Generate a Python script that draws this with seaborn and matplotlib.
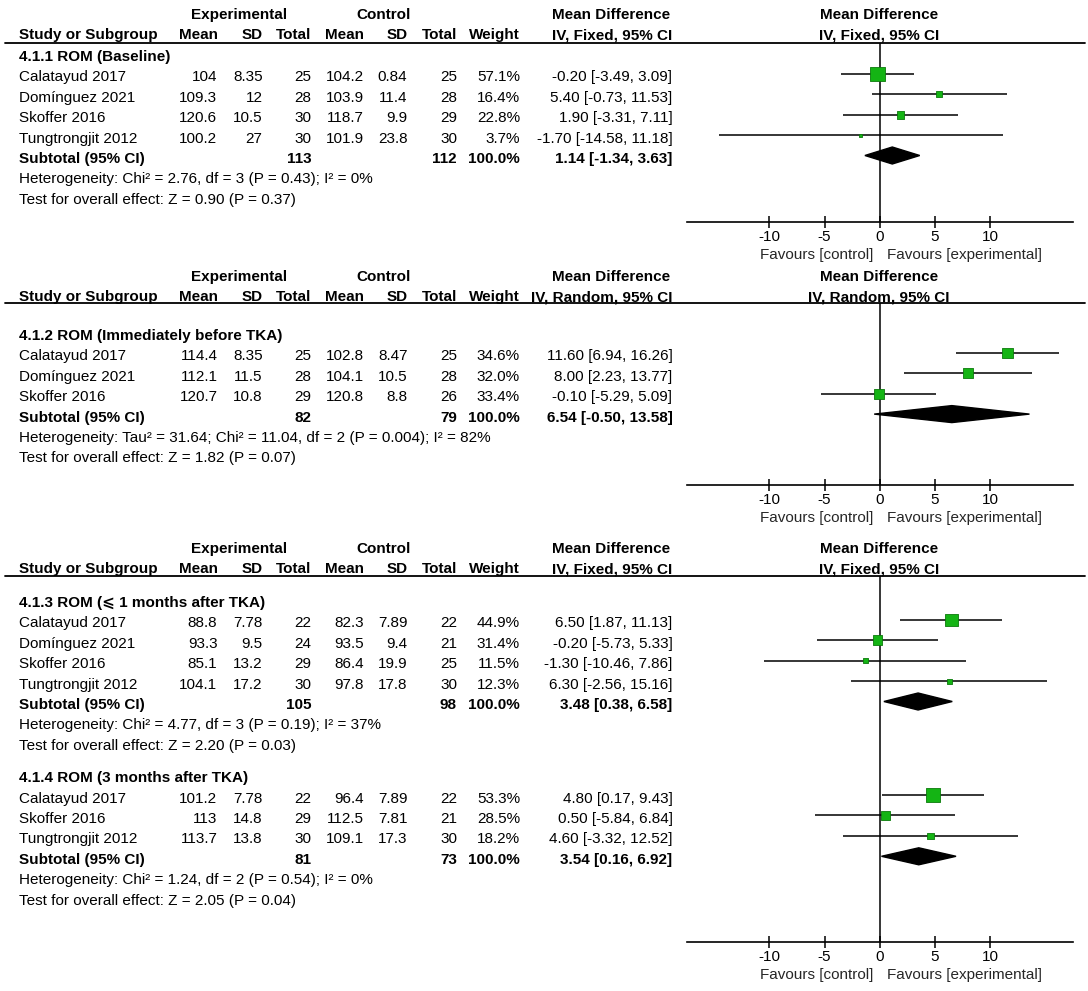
import numpy as np
import pandas as pd
import matplotlib
matplotlib.use("Agg")
import matplotlib.pyplot as plt
import seaborn as sns

# values (ROM, experimental vs control)

# 4.1.1 ROM (Baseline) - fixed effect
G1_TITLE = "4.1.1 ROM (Baseline)"
G1_STUDY = ["Calatayud 2017", "Domínguez 2021", "Skoffer 2016", "Tungtrongjit 2012"]
G1_EXP_MEAN = [104, 109.3, 120.6, 100.2]
G1_EXP_SD = [8.35, 12, 10.5, 27]
G1_EXP_N = [25, 28, 30, 30]
G1_CTL_MEAN = [104.2, 103.9, 118.7, 101.9]
G1_CTL_SD = [0.84, 11.4, 9.9, 23.8]
G1_CTL_N = [25, 28, 29, 30]
G1_WEIGHT = [57.1, 16.4, 22.8, 3.7]
G1_MD = [-0.20, 5.40, 1.90, -1.70]
G1_LO = [-3.49, -0.73, -3.31, -14.58]
G1_HI = [3.09, 11.53, 7.11, 11.18]
G1_TOTAL = [113, 112]
G1_POOLED = [1.14, -1.34, 3.63]
G1_HET = "Heterogeneity: Chi² = 2.76, df = 3 (P = 0.43); I² = 0%"
G1_TEST = "Test for overall effect: Z = 0.90 (P = 0.37)"

# 4.1.2 ROM (Immediately before TKA) - random effects
G2_TITLE = "4.1.2 ROM (Immediately before TKA)"
G2_STUDY = ["Calatayud 2017", "Domínguez 2021", "Skoffer 2016"]
G2_EXP_MEAN = [114.4, 112.1, 120.7]
G2_EXP_SD = [8.35, 11.5, 10.8]
G2_EXP_N = [25, 28, 29]
G2_CTL_MEAN = [102.8, 104.1, 120.8]
G2_CTL_SD = [8.47, 10.5, 8.8]
G2_CTL_N = [25, 28, 26]
G2_WEIGHT = [34.6, 32.0, 33.4]
G2_MD = [11.60, 8.00, -0.10]
G2_LO = [6.94, 2.23, -5.29]
G2_HI = [16.26, 13.77, 5.09]
G2_TOTAL = [82, 79]
G2_POOLED = [6.54, -0.50, 13.58]
G2_HET = "Heterogeneity: Tau² = 31.64; Chi² = 11.04, df = 2 (P = 0.004); I² = 82%"
G2_TEST = "Test for overall effect: Z = 1.82 (P = 0.07)"

# 4.1.3 ROM (<= 1 months after TKA) - fixed effect
G3_TITLE = "4.1.3 ROM (⩽ 1 months after TKA)"
G3_STUDY = ["Calatayud 2017", "Domínguez 2021", "Skoffer 2016", "Tungtrongjit 2012"]
G3_EXP_MEAN = [88.8, 93.3, 85.1, 104.1]
G3_EXP_SD = [7.78, 9.5, 13.2, 17.2]
G3_EXP_N = [22, 24, 29, 30]
G3_CTL_MEAN = [82.3, 93.5, 86.4, 97.8]
G3_CTL_SD = [7.89, 9.4, 19.9, 17.8]
G3_CTL_N = [22, 21, 25, 30]
G3_WEIGHT = [44.9, 31.4, 11.5, 12.3]
G3_MD = [6.50, -0.20, -1.30, 6.30]
G3_LO = [1.87, -5.73, -10.46, -2.56]
G3_HI = [11.13, 5.33, 7.86, 15.16]
G3_TOTAL = [105, 98]
G3_POOLED = [3.48, 0.38, 6.58]
G3_HET = "Heterogeneity: Chi² = 4.77, df = 3 (P = 0.19); I² = 37%"
G3_TEST = "Test for overall effect: Z = 2.20 (P = 0.03)"

# 4.1.4 ROM (3 months after TKA) - fixed effect
G4_TITLE = "4.1.4 ROM (3 months after TKA)"
G4_STUDY = ["Calatayud 2017", "Skoffer 2016", "Tungtrongjit 2012"]
G4_EXP_MEAN = [101.2, 113, 113.7]
G4_EXP_SD = [7.78, 14.8, 13.8]
G4_EXP_N = [22, 29, 30]
G4_CTL_MEAN = [96.4, 112.5, 109.1]
G4_CTL_SD = [7.89, 7.81, 17.3]
G4_CTL_N = [22, 21, 30]
G4_WEIGHT = [53.3, 28.5, 18.2]
G4_MD = [4.80, 0.50, 4.60]
G4_LO = [0.17, -5.84, -3.32]
G4_HI = [9.43, 6.84, 12.52]
G4_TOTAL = [81, 73]
G4_POOLED = [3.54, 0.16, 6.92]
G4_HET = "Heterogeneity: Chi² = 1.24, df = 2 (P = 0.54); I² = 0%"
G4_TEST = "Test for overall effect: Z = 2.05 (P = 0.04)"

X_TICKS = [-10, -5, 0, 5, 10]
X_LIM = (-17.5, 17.5)


def make_group(title, study, em, esd, en, cm, csd, cn, w, md, lo, hi, total, pooled, het, test):
    df = pd.DataFrame({
        "study": study, "exp_mean": em, "exp_sd": esd, "exp_n": en,
        "ctl_mean": cm, "ctl_sd": csd, "ctl_n": cn,
        "weight": w, "md": md, "lo": lo, "hi": hi,
    })
    return {"title": title, "df": df, "total": total, "pooled": pooled,
            "het": het, "test": test}


g1 = make_group(G1_TITLE, G1_STUDY, G1_EXP_MEAN, G1_EXP_SD, G1_EXP_N, G1_CTL_MEAN,
                G1_CTL_SD, G1_CTL_N, G1_WEIGHT, G1_MD, G1_LO, G1_HI, G1_TOTAL,
                G1_POOLED, G1_HET, G1_TEST)
g2 = make_group(G2_TITLE, G2_STUDY, G2_EXP_MEAN, G2_EXP_SD, G2_EXP_N, G2_CTL_MEAN,
                G2_CTL_SD, G2_CTL_N, G2_WEIGHT, G2_MD, G2_LO, G2_HI, G2_TOTAL,
                G2_POOLED, G2_HET, G2_TEST)
g3 = make_group(G3_TITLE, G3_STUDY, G3_EXP_MEAN, G3_EXP_SD, G3_EXP_N, G3_CTL_MEAN,
                G3_CTL_SD, G3_CTL_N, G3_WEIGHT, G3_MD, G3_LO, G3_HI, G3_TOTAL,
                G3_POOLED, G3_HET, G3_TEST)
g4 = make_group(G4_TITLE, G4_STUDY, G4_EXP_MEAN, G4_EXP_SD, G4_EXP_N, G4_CTL_MEAN,
                G4_CTL_SD, G4_CTL_N, G4_WEIGHT, G4_MD, G4_LO, G4_HI, G4_TOTAL,
                G4_POOLED, G4_HET, G4_TEST)

# layout in pixels (figure is 1088 x 991)
W, H = 1088, 991
ROW_H = 20.4
GROUP_GAP = 12
COL_X = [217.5, 262.5, 311.5, 364, 407.5, 457, 520]
MD_X = 672.5
NAME_X = 19
PLOT_LEFT, PLOT_RIGHT = 686.7, 1072.7
ZERO_X = 879
MARK_SHIFT = -3.5
FS = 11
GREEN = "#14b414"
GREEN_EDGE = "#0b7a0b"

panels = [
    {"model": "Fixed", "groups": [g1], "head": 15, "rule": 42.5, "first": 57, "axis": 221.5},
    {"model": "Random", "groups": [g2], "head": 277, "rule": 303, "first": 336, "axis": 485},
    {"model": "Fixed", "groups": [g3, g4], "head": 549, "rule": 576, "first": 603, "axis": 942},
]

sns.set_theme(style="white")
plt.rcParams["font.family"] = ["Liberation Sans", "DejaVu Sans"]
plt.rcParams["font.size"] = FS

fig = plt.figure(figsize=(W / 100, H / 100), dpi=100)
tax = fig.add_axes([0, 0, 1, 1])
tax.set_xlim(0, W)
tax.set_ylim(H, 0)
tax.axis("off")


def txt(x, y, s, ha="left", bold=False):
    tax.text(x, y, s, ha=ha, va="center", fontsize=FS, color="black",
             fontweight="bold" if bold else "normal")


def fmt(v):
    return f"{v:g}"


for p in panels:
    h1, h2 = p["head"], p["head"] + 20
    txt(238.7, h1, "Experimental", "center", True)
    txt(384, h1, "Control", "center", True)
    txt(611, h1, "Mean Difference", "center", True)
    txt(ZERO_X, h1, "Mean Difference", "center", True)
    txt(NAME_X, h2, "Study or Subgroup", bold=True)
    for lab, x in zip(["Mean", "SD", "Total", "Mean", "SD", "Total", "Weight"], COL_X):
        txt(x, h2, lab, "right", True)
    txt(MD_X, h2, f"IV, {p['model']}, 95% CI", "right", True)
    txt(ZERO_X, h2, f"IV, {p['model']}, 95% CI", "center", True)
    tax.plot([5, 1085], [p["rule"], p["rule"]], color="black", lw=1.3)

    # forest axes for this panel, y in figure pixels
    fax = fig.add_axes([PLOT_LEFT / W, 1 - p["axis"] / H,
                        (PLOT_RIGHT - PLOT_LEFT) / W, (p["axis"] - p["rule"]) / H])
    fax.set_xlim(*X_LIM)
    fax.set_ylim(p["axis"], p["rule"])
    fax.patch.set_alpha(0)
    for side in ["left", "right", "top"]:
        fax.spines[side].set_visible(False)
    fax.spines["bottom"].set_color("black")
    fax.spines["bottom"].set_linewidth(1.2)
    fax.set_xticks(X_TICKS)
    fax.set_xticklabels([str(t) for t in X_TICKS])
    fax.set_yticks([])
    fax.tick_params(axis="x", direction="inout", length=9, width=1.1, pad=1.5,
                    labelsize=FS, colors="black", bottom=True)
    fax.axvline(0, color="black", lw=1.1, zorder=1)
    fax.text(-0.6, p["axis"] + 33, "Favours [control]", ha="right", va="center",
             fontsize=FS, transform=fax.transData, clip_on=False)
    fax.text(0.7, p["axis"] + 33, "Favours [experimental]", ha="left", va="center",
             fontsize=FS, transform=fax.transData, clip_on=False)

    y = p["first"]
    for gi, g in enumerate(p["groups"]):
        if gi > 0:
            y += GROUP_GAP
        txt(NAME_X, y, g["title"], bold=True)
        y += ROW_H
        df = g["df"]
        ys = []
        for _, r in df.iterrows():
            txt(NAME_X, y, r["study"])
            vals = [r["exp_mean"], r["exp_sd"], r["exp_n"], r["ctl_mean"], r["ctl_sd"], r["ctl_n"]]
            for v, x in zip(vals, COL_X[:6]):
                txt(x, y, fmt(v), "right")
            txt(COL_X[6], y, f"{r['weight']:.1f}%", "right")
            txt(MD_X, y, f"{r['md']:.2f} [{r['lo']:.2f}, {r['hi']:.2f}]", "right")
            ys.append(y + MARK_SHIFT)
            y += ROW_H
        ys = np.array(ys)
        # confidence intervals and weighted squares
        fax.hlines(ys, df["lo"], df["hi"], color="black", lw=1.1, zorder=2)
        side_px = np.maximum(0.86 * df["weight"].to_numpy() ** 0.7, 3)
        side_pt = side_px * 72 / 100
        fax.scatter(df["md"], ys, s=side_pt ** 2, marker="s", color=GREEN,
                    edgecolor=GREEN_EDGE, linewidth=0.6, zorder=3)
        # subtotal row
        txt(NAME_X, y, "Subtotal (95% CI)", bold=True)
        txt(COL_X[2], y, str(g["total"][0]), "right", True)
        txt(COL_X[5], y, str(g["total"][1]), "right", True)
        txt(COL_X[6], y, "100.0%", "right", True)
        md, lo, hi = g["pooled"]
        txt(MD_X, y, f"{md:.2f} [{lo:.2f}, {hi:.2f}]", "right", True)
        yc = y + MARK_SHIFT
        fax.fill([lo, md, hi, md], [yc, yc - 8.5, yc, yc + 8.5], color="black", zorder=3)
        y += ROW_H
        txt(NAME_X, y, g["het"])
        y += ROW_H
        txt(NAME_X, y, g["test"])
        y += ROW_H

fig.savefig("out.png", dpi=100)
